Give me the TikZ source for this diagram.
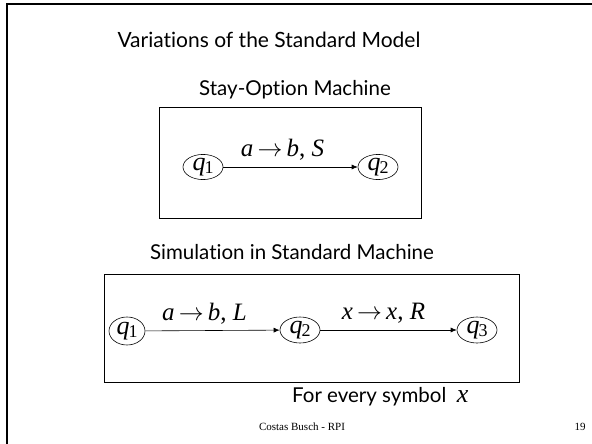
\documentclass[tikz,border=0pt]{standalone}
\usepackage{fontspec}
\setmainfont[Ligatures=NoCommon]{Lato}
\newfontfamily\tms{Liberation Serif}
\usetikzlibrary{shapes.geometric,arrows.meta}
\tikzset{
  st/.style={draw, ellipse, inner sep=0pt, line width=0.6pt},
  tr/.style={-{Latex[length=6pt,width=5pt]}, line width=0.6pt},
  frm/.style={draw, line width=0.7pt},
  lbl/.style={font=\tms\fontsize{25}{26}\selectfont, inner sep=0pt},
  sub/.style={font=\fontsize{20.5}{22}\selectfont, inner sep=0pt}
}
\newcommand{\qs}[1]{{\tms\fontsize{26}{26}\selectfont\itshape q\kern-1pt\raisebox{-0.3ex}{\fontsize{18}{18}\selectfont\upshape #1}}}
\newcommand{\arr}{\,$\rightarrow$\,}
\begin{document}
\begin{tikzpicture}[x=1pt,y=-1pt]
\useasboundingbox (0,0) rectangle (592,444);
\draw[line width=2pt] (7,460) -- (7,4) -- (600,4);
\node[font=\fontsize{21}{24}\selectfont, inner sep=0pt] (title) at (269,40) {Variations of the Standard Model};
\node[sub] (stay) at (295,90) {Stay-Option Machine};
\draw[frm] (159,107) rectangle (421,218);
\node[st, minimum width=40pt, minimum height=24pt] (a1) at (203,167) {\qs{1}};
\node[st, minimum width=40pt, minimum height=24pt] (a2) at (378,167) {\qs{2}};
\draw[tr] (a1) -- node[lbl, above=6pt, xshift=-8pt] (la) {\textit{a}\arr\textit{b}, \textit{S}} (a2);
\node[sub] (sim) at (292,252) {Simulation in Standard Machine};
\draw[frm] (104,274) rectangle (519,382);
\node[st, minimum width=36pt, minimum height=28pt] (b1) at (127,331) {\qs{1}};
\node[st, minimum width=40pt, minimum height=26pt] (b2) at (300,330) {\qs{2}};
\node[st, minimum width=40pt, minimum height=26pt] (b3) at (477,330) {\qs{3}};
\draw[tr] (b1) -- node[lbl, above=6pt, xshift=-8pt] (lb) {\textit{a}\arr\textit{b}, \textit{L}} (b2);
\draw[tr] (b2) -- node[lbl, above=6pt, xshift=-5pt] (lc) {\textit{x}\arr\textit{x}, \textit{R}} (b3);
\node[sub, anchor=base west] (every) at (292,402) {For every symbol \ {\tms\fontsize{26}{26}\selectfont\itshape x}};
\node[font=\tms\fontsize{11}{12}\selectfont, inner sep=0pt] (foot) at (302,427) {Costas Busch - RPI};
\node[font=\tms\fontsize{11}{12}\selectfont, inner sep=0pt] (num) at (580,427) {19};
\end{tikzpicture}
\end{document}
